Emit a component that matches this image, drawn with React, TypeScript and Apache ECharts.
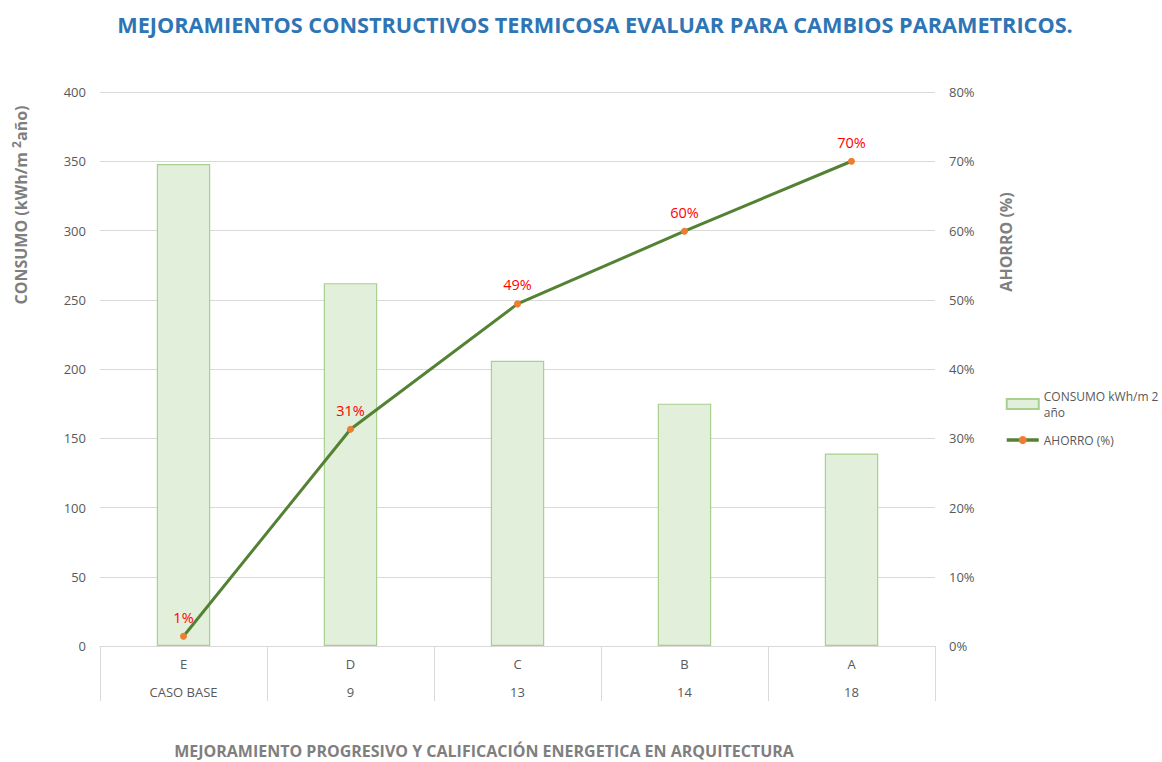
import React, { useEffect, useRef } from "react";
import * as echarts from "echarts";

const letters = ["E", "D", "C", "B", "A"];
const cases = ["CASO BASE", "9", "13", "14", "18"];
const consumo = [348, 262, 206, 175, 139];
const ahorro = [0.014, 0.313, 0.494, 0.599, 0.7];

const FONT = "'Open Sans', 'Noto Sans', sans-serif";

export default function App() {
  const ref = useRef<HTMLDivElement>(null);
  useEffect(() => {
    document.body.style.margin = "0";
    const chart = echarts.init(ref.current!, null, { renderer: "svg" });
    chart.setOption({
      animation: false,
      textStyle: { fontFamily: FONT },
      title: {
        text: "MEJORAMIENTOS CONSTRUCTIVOS TERMICOSA EVALUAR PARA CAMBIOS PARAMETRICOS.",
        left: 590,
        textAlign: "center",
        top: 8,
        textStyle: { color: "#2e75b6", fontSize: 21.7, fontWeight: "bold", fontFamily: FONT },
      },
      grid: { left: 100, right: 227, top: 92, bottom: 116 },
      legend: {
        orient: "vertical",
        left: 1000,
        top: 383,
        itemWidth: 32,
        itemHeight: 10,
        itemGap: 12,
        textStyle: { color: "#595959", fontSize: 12, fontFamily: FONT, lineHeight: 16 },
        formatter: (n: string) => (n.startsWith("CONSUMO") ? "CONSUMO kWh/m 2\naño" : n),
        data: [
          { name: "CONSUMO kWh/m 2 año", icon: "rect" },
          { name: "AHORRO (%)", lineStyle: { width: 3.5, color: "#548235" } },
        ],
      },
      xAxis: [
        {
          type: "category",
          data: letters,
          position: "bottom",
          axisLine: { lineStyle: { color: "#d9d9d9" } },
          axisTick: { show: true, length: 55, lineStyle: { color: "#d9d9d9" } },
          axisLabel: { color: "#595959", fontSize: 13, margin: 11 },
        },
        {
          type: "category",
          data: cases,
          position: "bottom",
          offset: 28,
          axisLine: { show: false },
          axisTick: { show: false },
          axisLabel: { color: "#595959", fontSize: 13, margin: 11 },
        },
      ],
      yAxis: [
        {
          type: "value",
          min: 0,
          max: 400,
          interval: 50,
          axisLine: { show: false },
          axisTick: { show: false },
          splitLine: { lineStyle: { color: "#d9d9d9" } },
          axisLabel: { color: "#595959", fontSize: 13, margin: 14 },
        },
        {
          type: "value",
          min: 0,
          max: 0.8,
          interval: 0.1,
          position: "right",
          axisLine: { show: false },
          axisTick: { show: false },
          splitLine: { show: false },
          axisLabel: {
            color: "#595959",
            fontSize: 13,
            margin: 14,
            formatter: (v: number) => Math.round(v * 100) + "%",
          },
        },
      ],
      series: [
        {
          name: "CONSUMO kWh/m 2 año",
          type: "bar",
          data: consumo,
          barWidth: "32%",
          itemStyle: { color: "#e2efda", borderColor: "#a9d08e", borderWidth: 1.2 },
        },
        {
          name: "AHORRO (%)",
          type: "line",
          yAxisIndex: 1,
          data: ahorro,
          symbol: "circle",
          symbolSize: 7,
          lineStyle: { color: "#548235", width: 3 },
          itemStyle: { color: "#ed7d31" },
          label: {
            show: true,
            position: "top",
            distance: 8,
            color: "#ff0000",
            fontSize: 14.5,
            formatter: (p: any) => Math.round(p.value * 100) + "%",
          },
        },
      ],
      graphic: [
        {
          type: "text",
          x: 21,
          y: 205,
          rotation: Math.PI / 2,
          style: {
            text: "{a|CONSUMO (kWh/m }{s|2}{a|año)}",
            rich: {
              a: { fontSize: 16, fontWeight: "bold", fill: "#7f7f7f", fontFamily: FONT },
              s: { fontSize: 12, fontWeight: "bold", fill: "#7f7f7f", fontFamily: FONT, padding: [0, 0, 10, 0] },
            },
            align: "center",
            verticalAlign: "middle",
          },
        },
        {
          type: "text",
          x: 1006,
          y: 242,
          rotation: Math.PI / 2,
          style: {
            text: "AHORRO (%)",
            fontSize: 16,
            fontWeight: "bold",
            fill: "#7f7f7f",
            fontFamily: FONT,
            align: "center",
            verticalAlign: "middle",
          },
        },
        {
          type: "text",
          x: 484,
          y: 751,
          style: {
            text: "MEJORAMIENTO PROGRESIVO Y CALIFICACIÓN ENERGETICA EN ARQUITECTURA",
            fontSize: 16,
            fontWeight: "bold",
            fill: "#7f7f7f",
            fontFamily: FONT,
            align: "center",
            verticalAlign: "middle",
          },
        },
      ],
    });
    return () => chart.dispose();
  }, []);
  return <div ref={ref} style={{ width: 1162, height: 762 }} />;
}
